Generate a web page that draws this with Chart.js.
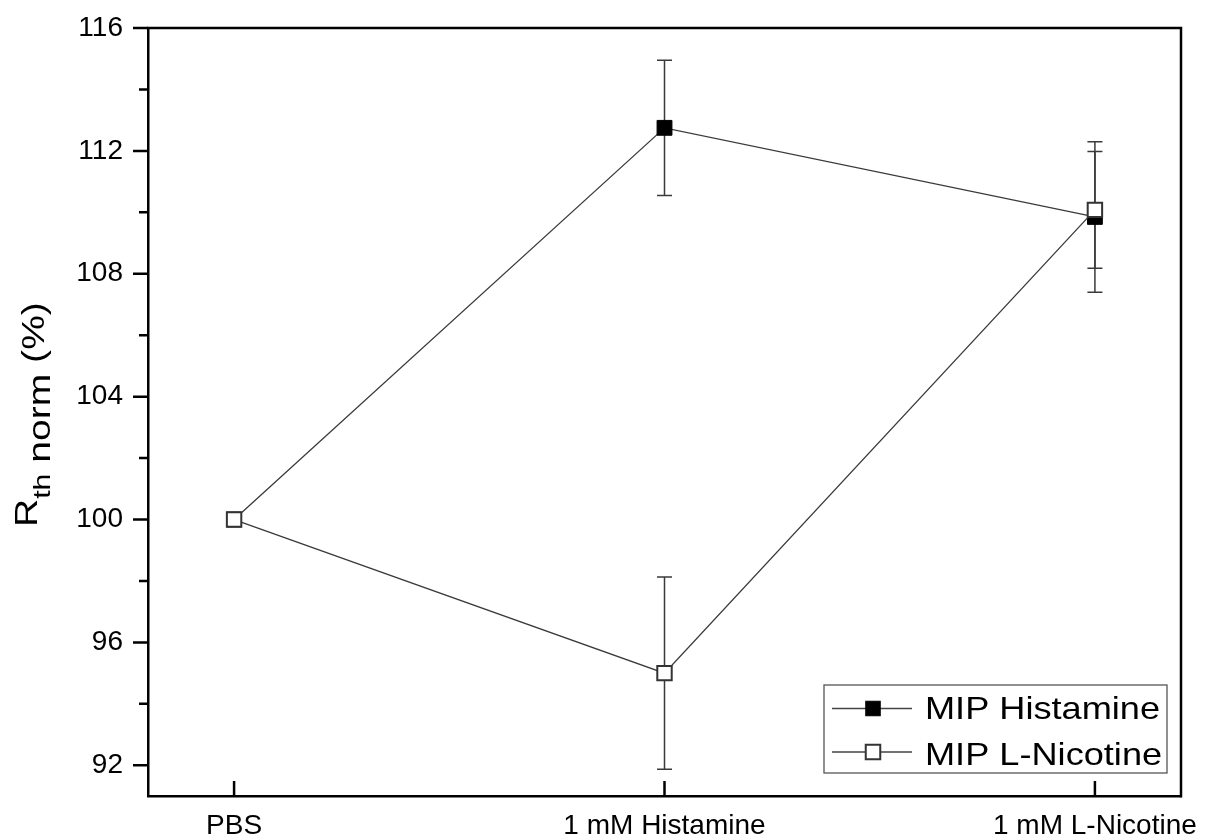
<!DOCTYPE html>
<html>
<head>
<meta charset="utf-8">
<script src="https://cdn.jsdelivr.net/npm/chart.js@4/dist/chart.umd.min.js"></script>
<style>
  html, body { margin: 0; padding: 0; background: #ffffff; }
  canvas { display: block; }
</style>
</head>
<body>
<canvas id="c" width="1206" height="838"></canvas>
<script>
// Categories along the x axis
const categories = ['PBS', '1 mM Histamine', '1 mM L-Nicotine'];

// Normalised thermal resistance (%) and error bar half-widths
const histamineMean = [100, 112.75, 109.85];
const histamineErr  = [0, 2.2, 2.45];
const nicotineMean  = [100, 95.0, 110.08];
const nicotineErr   = [0, 3.13, 1.9];

// Axis ticks
const yTickLabels = [92, 96, 100, 104, 108, 112, 116];
const yMinorTicks = [94, 98, 102, 106, 110, 114];

const FONT = 'Liberation Sans, Arial, Helvetica, sans-serif';

function toPoints(values) {
  return values.map((v, i) => ({ x: i, y: v }));
}

// Error bars, frame, tick marks, legend and the y-axis title
const decorations = {
  id: 'decorations',
  beforeDatasetsDraw(chart) {
    const { ctx, scales: { x, y } } = chart;
    ctx.save();
    ctx.strokeStyle = '#3a3a3a';
    ctx.lineWidth = 1.5;
    chart.data.datasets.forEach(ds => {
      ds.data.forEach((p, i) => {
        const e = ds.errors[i];
        if (!e) return;
        const px = x.getPixelForValue(p.x);
        const top = y.getPixelForValue(p.y + e);
        const bot = y.getPixelForValue(p.y - e);
        ctx.beginPath();
        ctx.moveTo(px, top); ctx.lineTo(px, bot);
        ctx.moveTo(px - 7.5, top); ctx.lineTo(px + 7.5, top);
        ctx.moveTo(px - 7.5, bot); ctx.lineTo(px + 7.5, bot);
        ctx.stroke();
      });
    });
    ctx.restore();
  },
  afterDraw(chart) {
    const { ctx, chartArea: a, scales: { x, y } } = chart;
    ctx.save();
    // top and right frame lines
    ctx.strokeStyle = '#000';
    ctx.lineWidth = 2.5;
    ctx.beginPath();
    ctx.moveTo(a.left - 1.25, a.top); ctx.lineTo(a.right, a.top); ctx.lineTo(a.right, a.bottom + 1.25);
    ctx.stroke();
    // y ticks pointing outward
    ctx.beginPath();
    yTickLabels.forEach(v => {
      const py = y.getPixelForValue(v);
      ctx.moveTo(a.left - 15, py); ctx.lineTo(a.left, py);
    });
    yMinorTicks.forEach(v => {
      const py = y.getPixelForValue(v);
      ctx.moveTo(a.left - 9, py); ctx.lineTo(a.left, py);
    });
    // x ticks pointing inward
    categories.forEach((c, i) => {
      const px = x.getPixelForValue(i);
      ctx.moveTo(px, a.bottom); ctx.lineTo(px, a.bottom - 15);
    });
    ctx.stroke();

    // legend box
    const lx = 824, ly = 685, lw = 343, lh = 88;
    ctx.strokeStyle = '#555';
    ctx.lineWidth = 1.3;
    ctx.fillStyle = '#fff';
    ctx.fillRect(lx, ly, lw, lh);
    ctx.strokeRect(lx, ly, lw, lh);
    const rows = [708.5, 752];
    const baselines = [719, 765];
    chart.data.datasets.forEach((ds, i) => {
      const ry = rows[i];
      ctx.strokeStyle = '#444';
      ctx.lineWidth = 1.3;
      ctx.beginPath();
      ctx.moveTo(832, ry); ctx.lineTo(912, ry);
      ctx.stroke();
      const s = 14.5;
      ctx.fillStyle = ds.pointBackgroundColor;
      ctx.fillRect(873 - s / 2, ry - s / 2, s, s);
      ctx.strokeStyle = ds.pointBorderColor;
      ctx.lineWidth = ds.pointBorderWidth;
      ctx.strokeRect(873 - s / 2, ry - s / 2, s, s);
      ctx.save();
      ctx.translate(925, baselines[i]);
      ctx.scale(1.13, 1);
      ctx.fillStyle = '#000';
      ctx.font = '32px ' + FONT;
      ctx.textBaseline = 'alphabetic';
      ctx.textAlign = 'left';
      ctx.fillText(ds.label, 0, 0);
      ctx.restore();
    });

    // y-axis title: R_th norm (%)
    ctx.save();
    ctx.translate(37, 527);
    ctx.rotate(-Math.PI / 2);
    ctx.scale(1.26, 1);
    ctx.fillStyle = '#000';
    ctx.textBaseline = 'alphabetic';
    ctx.textAlign = 'left';
    let cx = 0;
    ctx.font = '31px ' + FONT;
    ctx.fillText('R', cx, 0);
    cx += ctx.measureText('R').width;
    ctx.font = '24px ' + FONT;
    ctx.fillText('th', cx, 13);
    cx += ctx.measureText('th').width;
    ctx.font = '31px ' + FONT;
    ctx.fillText(' norm', cx, 13);
    cx += ctx.measureText(' norm').width;
    ctx.fillText(' (%)', cx, 7);
    ctx.restore();

    ctx.restore();
  }
};

new Chart(document.getElementById('c'), {
  type: 'line',
  data: {
    datasets: [
      {
        label: 'MIP Histamine',
        data: toPoints(histamineMean),
        errors: histamineErr,
        borderColor: '#3a3a3a',
        borderWidth: 1.3,
        pointStyle: 'rect',
        pointRadius: 10.5,
        pointBackgroundColor: '#000',
        pointBorderColor: '#000',
        pointBorderWidth: 1,
        order: 1
      },
      {
        label: 'MIP L-Nicotine',
        data: toPoints(nicotineMean),
        errors: nicotineErr,
        borderColor: '#3a3a3a',
        borderWidth: 1.3,
        pointStyle: 'rect',
        pointRadius: 10.2,
        pointBackgroundColor: '#fff',
        pointBorderColor: '#333',
        pointBorderWidth: 2,
        order: 0
      }
    ]
  },
  options: {
    responsive: false,
    animation: false,
    layout: { padding: { top: 28, right: 25, left: 0, bottom: 0 } },
    plugins: { legend: { display: false }, tooltip: { enabled: false } },
    scales: {
      x: {
        type: 'linear',
        min: -0.2,
        max: 2.2,
        afterBuildTicks: s => { s.ticks = categories.map((c, i) => ({ value: i })); },
        afterFit: s => { s.height = 42; s.paddingLeft = 0; s.paddingRight = 0; },
        ticks: {
          callback: v => categories[v] ?? '',
          color: '#000',
          font: { family: FONT, size: 28 },
          padding: 5,
          maxRotation: 0,
          autoSkip: false
        },
        grid: { display: false },
        border: { display: true, color: '#000', width: 2.5 }
      },
      y: {
        min: 91,
        max: 116,
        afterBuildTicks: s => { s.ticks = yTickLabels.map(v => ({ value: v })); },
        afterFit: s => { s.width = 148; s.paddingTop = 0; s.paddingBottom = 0; },
        ticks: {
          color: '#000',
          font: { family: FONT, size: 28 },
          padding: 17
        },
        grid: { display: false },
        border: { display: true, color: '#000', width: 2.5 }
      }
    }
  },
  plugins: [decorations]
});
</script>
</body>
</html>
